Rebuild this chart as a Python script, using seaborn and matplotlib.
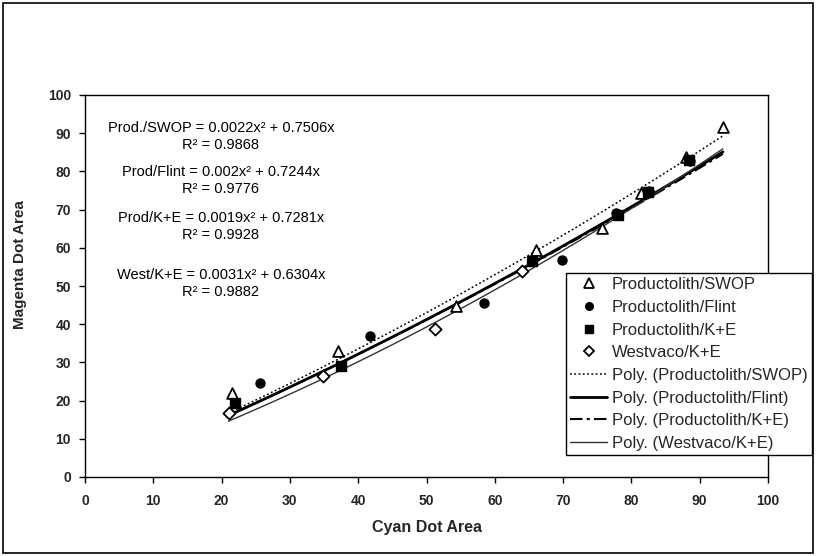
import numpy as np
import pandas as pd
import seaborn as sns
import matplotlib
matplotlib.use("Agg")
import matplotlib.pyplot as plt
from matplotlib.lines import Line2D
from matplotlib.patches import Rectangle

# ---- data -------------------------------------------------------------
series_names = ["Productolith/SWOP", "Productolith/Flint",
                "Productolith/K+E", "Westvaco/K+E"]

swop_x = [21.5, 37.0, 54.3, 66.0, 75.7, 81.4, 88.0, 93.4]
swop_y = [22.0, 33.0, 44.8, 59.5, 65.2, 74.3, 83.8, 91.6]

flint_x = [25.6, 41.7, 58.4, 69.8, 77.7, 82.6, 88.6]
flint_y = [24.6, 36.9, 45.5, 56.8, 69.1, 74.8, 82.7]

ke_x = [22.0, 37.5, 65.5, 78.0, 82.5, 88.5]
ke_y = [19.4, 29.1, 56.5, 68.5, 74.5, 83.0]

west_x = [21.1, 34.8, 51.2, 64.0]
west_y = [16.8, 26.4, 38.7, 54.0]

# second-order polynomial trendlines (through the origin)
eq_prefix = ["Prod./SWOP", "Prod/Flint", "Prod/K+E", "West/K+E"]
quad_coef = [0.0022, 0.002, 0.0019, 0.0031]
lin_coef = [0.7506, 0.7244, 0.7281, 0.6304]
r_squared = [0.9868, 0.9776, 0.9928, 0.9882]
fit_start = [21.0, 21.0, 21.0, 21.0]
fit_end = [93.4, 93.4, 93.4, 93.4]

x_ticks = list(range(0, 101, 10))
y_ticks = list(range(0, 101, 10))

# ---- style ------------------------------------------------------------
sns.set_theme(style="white")
plt.rcParams["font.family"] = ["Liberation Sans", "DejaVu Sans"]

fig = plt.figure(figsize=(8.16, 5.56), dpi=100)
ax = fig.add_axes([85 / 816, 79 / 556, 683 / 816, 382 / 556])

points = pd.concat([
    pd.DataFrame({"cyan": swop_x, "magenta": swop_y, "series": series_names[0]}),
    pd.DataFrame({"cyan": flint_x, "magenta": flint_y, "series": series_names[1]}),
    pd.DataFrame({"cyan": ke_x, "magenta": ke_y, "series": series_names[2]}),
    pd.DataFrame({"cyan": west_x, "magenta": west_y, "series": series_names[3]}),
], ignore_index=True)

marker_style = {
    series_names[0]: dict(marker="^", s=60, facecolor="white", edgecolor="black", linewidth=1.3),
    series_names[1]: dict(marker="o", s=42, facecolor="black", edgecolor="black", linewidth=1.0),
    series_names[2]: dict(marker="s", s=42, facecolor="black", edgecolor="black", linewidth=1.0),
    series_names[3]: dict(marker="D", s=38, facecolor="white", edgecolor="black", linewidth=1.3),
}

line_style = [
    dict(linestyle=(0, (1.2, 1.6)), linewidth=1.1, color="black"),
    dict(linestyle="-", linewidth=2.0, color="black"),
    dict(linestyle=(0, (6, 2, 1.5, 2)), linewidth=1.5, color="black"),
    dict(linestyle="-", linewidth=1.0, color="#333333"),
]

# trendlines drawn from the stated polynomial coefficients
fit_frames = []
for name, a, b, x0, x1 in zip(series_names, quad_coef, lin_coef, fit_start, fit_end):
    xs = np.linspace(x0, x1, 60)
    fit_frames.append(pd.DataFrame({"cyan": xs, "magenta": a * xs ** 2 + b * xs,
                                    "series": name}))
fits = pd.concat(fit_frames, ignore_index=True)

for name, st in zip(series_names, line_style):
    sns.lineplot(data=fits[fits.series == name], x="cyan", y="magenta",
                 ax=ax, legend=False, estimator=None, sort=True, **st)

for name in series_names:
    sub = points[points.series == name]
    sns.scatterplot(data=sub, x="cyan", y="magenta", ax=ax, legend=False,
                    zorder=5, **marker_style[name])

# ---- axes -------------------------------------------------------------
ax.set_xlim(0, 100)
ax.set_ylim(0, 100)
ax.set_xticks(x_ticks)
ax.set_yticks(y_ticks)
ax.tick_params(axis="both", direction="out", length=4, width=1, color="black",
               labelsize=10, left=True, bottom=True)
ax.tick_params(axis="x", pad=8)
ax.tick_params(axis="y", pad=6)
for lbl in ax.get_xticklabels() + ax.get_yticklabels():
    lbl.set_fontweight("bold")
for sp in ax.spines.values():
    sp.set_visible(True)
    sp.set_color("black")
    sp.set_linewidth(1.0)

ax.set_xlabel("Cyan Dot Area", fontsize=11.5, fontweight="bold")
ax.set_ylabel("Magenta Dot Area", fontsize=11, fontweight="bold")
ax.xaxis.set_label_coords(0.5, -0.113)
ax.yaxis.set_label_coords(-0.085, 0.555)

# ---- trendline equations ---------------------------------------------
eq_y = [91.4, 79.8, 67.8, 52.9]
for pre, a, b, r2, yy in zip(eq_prefix, quad_coef, lin_coef, r_squared, eq_y):
    ax.text(19.9, yy, f"{pre} = {a:g}x\u00b2 + {b:g}x", ha="center", va="center",
            fontsize=10.5, color="black")
    ax.text(19.9, yy - 4.5, f"R\u00b2 = {r2:g}", ha="center", va="center",
            fontsize=10.5, color="black")

# ---- legend -----------------------------------------------------------
handles = []
for name in series_names:
    st = marker_style[name]
    handles.append(Line2D([], [], linestyle="none", marker=st["marker"],
                          markersize=np.sqrt(st["s"]) * 0.85,
                          markerfacecolor=st["facecolor"],
                          markeredgecolor=st["edgecolor"],
                          markeredgewidth=st["linewidth"]))
for st in line_style:
    handles.append(Line2D([], [], **st))
labels = series_names + [f"Poly. ({n})" for n in series_names]

leg = ax.legend(handles, labels, loc="upper left",
                bbox_to_anchor=(566 / 816, 1 - 273 / 556),
                bbox_transform=fig.transFigure, fontsize=12,
                frameon=True, fancybox=False, framealpha=1,
                edgecolor="black", borderpad=0.25, labelspacing=0.46,
                handlelength=2.2, handletextpad=0.3, borderaxespad=0)
leg.get_frame().set_linewidth(1.0)

# outer chart border
fig.patches.append(Rectangle((3 / 816, 3 / 556), 810 / 816, 550 / 556,
                             transform=fig.transFigure, fill=False,
                             edgecolor="black", linewidth=1.2))

fig.savefig("out.png", dpi=100, facecolor="white")
